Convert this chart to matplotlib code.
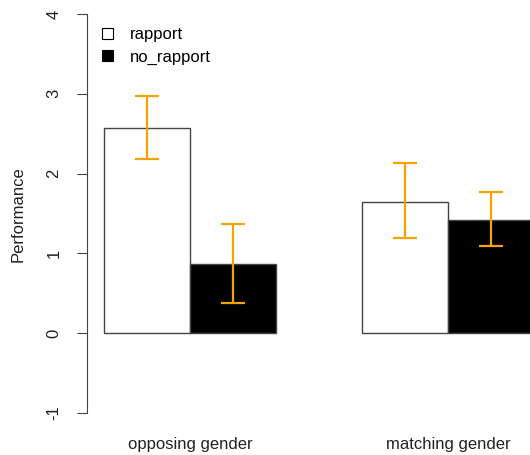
import numpy as np
import matplotlib.pyplot as plt
from matplotlib.patches import Patch

plt.rcParams['font.family'] = ['Liberation Sans', 'DejaVu Sans']
plt.rcParams['axes.unicode_minus'] = False

# data
groups = ["opposing gender", "matching gender"]
rapport = [2.57, 1.65]
rapport_lo = [2.18, 1.19]
rapport_hi = [2.97, 2.13]
no_rapport = [0.87, 1.42]
no_rapport_lo = [0.38, 1.09]
no_rapport_hi = [1.37, 1.77]

W, H = 530, 455
fig = plt.figure(figsize=(W / 100, H / 100), dpi=100)
# R-style plot region, right edge cropped off like the original
ax = fig.add_axes([87 / W, 1 - 429 / H, 464 / W, 431 / H])

# R barplot(beside=TRUE): bars of width 1, one bar of space between groups
left_r = np.array([1, 4])
left_n = left_r + 1
edge = "#444444"
ax.bar(left_r, rapport, width=1, align="edge", color="white", edgecolor=edge, linewidth=1)
ax.bar(left_n, no_rapport, width=1, align="edge", color="black", edgecolor=edge, linewidth=1)

err_col = "#F5A300"
for x, m, lo, hi in zip(np.r_[left_r + 0.5, left_n + 0.5],
                        rapport + no_rapport,
                        rapport_lo + no_rapport_lo,
                        rapport_hi + no_rapport_hi):
    ax.errorbar(x, m, yerr=[[m - lo], [hi - m]], fmt="none", ecolor=err_col,
                elinewidth=1.6, capsize=8.5, capthick=1.6)

ax.set_xlim(0.8, 6.2)
ax.set_ylim(-1.2, 4.2)
for s in ["top", "right", "bottom"]:
    ax.spines[s].set_visible(False)
ax.spines["left"].set_bounds(-1, 4)
ax.spines["left"].set_color(edge)
ax.set_yticks([-1, 0, 1, 2, 3, 4])
ax.tick_params(axis="y", length=7.5, pad=11, labelsize=12, color=edge,
               labelcolor="#222222")
for lab in ax.get_yticklabels():
    lab.set_rotation(90)
    lab.set_va("center")

ax.set_xticks(left_n)
ax.set_xticklabels(groups, fontsize=12, color="#222222")
ax.tick_params(axis="x", length=0, pad=6)

fig.text(18 / W, 1 - 214 / H, "Performance", rotation=90, ha="center",
         va="center", fontsize=12, color="#222222")

handles = [Patch(facecolor="white", edgecolor="black", linewidth=0.8),
           Patch(facecolor="black", edgecolor="black", linewidth=0.8)]
fig.legend(handles, ["rapport", "no_rapport"], loc="upper left",
           bbox_to_anchor=(102 / W, 1 - 27 / H), frameon=False,
           fontsize=12, handlelength=0.65, handleheight=0.65,
           handletextpad=1.0, labelspacing=0.45, borderaxespad=0,
           borderpad=0)

fig.savefig("out.png", dpi=100)
